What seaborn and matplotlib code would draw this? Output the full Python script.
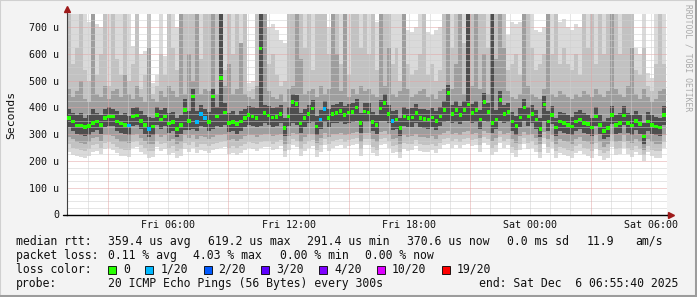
import numpy as np
import pandas as pd
import matplotlib
matplotlib.use("Agg")
import matplotlib.pyplot as plt
from matplotlib.patches import Rectangle
from matplotlib.lines import Line2D
import seaborn as sns

# ------------------------------------------------------------------
# Data (RTT in microseconds), one value per 12-minute step, 150 steps
# ------------------------------------------------------------------
median_us = [
    360, 347, 332, 332, 327, 330, 341, 347, 335, 360, 366, 366, 347, 339, 335, 332, 366, 370, 350, 335, 320, 329, 372, 354, 366,
    340, 345, 320, 335, 390, 350, 441, 345, 375, 360, 345, 440, 366, 509, 380, 341, 345, 337, 347, 360, 372, 366, 360, 620, 378,
    370, 362, 364, 375, 322, 366, 420, 412, 340, 360, 375, 395, 329, 354, 393, 360, 375, 378, 387, 372, 380, 382, 400, 341, 385,
    380, 345, 335, 395, 416, 375, 350, 354, 322, 365, 360, 362, 378, 360, 357, 354, 362, 350, 366, 391, 454, 375, 390, 372, 391,
    410, 378, 390, 355, 419, 382, 341, 354, 427, 375, 382, 347, 330, 362, 400, 366, 375, 354, 320, 410, 347, 372, 325, 347, 341,
    335, 329, 347, 354, 341, 337, 325, 365, 335, 312, 322, 372, 335, 341, 370, 341, 332, 350, 337, 291, 347, 335, 329, 325, 371,
]
# steps whose median was drawn with the 1/20 loss colour
loss_1of20_steps = [15, 20, 32, 33, 34, 63, 64, 81]

# smoke: outermost (light) band
smoke_lo = [
    235, 222, 218, 215, 212, 220, 232, 238, 225, 245, 250, 242, 228, 220, 218, 215, 248, 252, 235, 225, 212, 215, 252, 238, 245,
    222, 230, 212, 220, 245, 235, 250, 228, 242, 238, 230, 240, 245, 250, 252, 225, 230, 222, 230, 242, 250, 245, 238, 250, 252,
    252, 240, 245, 255, 215, 240, 258, 252, 220, 238, 250, 255, 215, 235, 258, 238, 250, 255, 258, 248, 255, 258, 262, 220, 258,
    258, 228, 218, 260, 265, 250, 230, 235, 212, 245, 238, 242, 255, 238, 235, 232, 242, 230, 245, 258, 265, 250, 258, 248, 260,
    265, 255, 260, 232, 268, 258, 222, 235, 268, 250, 258, 228, 215, 242, 262, 245, 250, 232, 210, 262, 228, 248, 212, 228, 222,
    218, 212, 230, 238, 225, 220, 212, 245, 218, 205, 212, 252, 222, 225, 250, 225, 215, 232, 222, 200, 232, 218, 212, 210, 250,
]
smoke_hi = [
    760, 760, 760, 760, 760, 720, 700, 710, 700, 760, 760, 760, 760, 760, 650, 760, 630, 760, 600, 610, 760, 490, 520, 760, 590,
    760, 760, 700, 760, 760, 760, 760, 760, 760, 760, 760, 760, 760, 760, 760, 760, 760, 760, 760, 760, 490, 500, 760, 760, 760,
    700, 710, 690, 650, 640, 760, 760, 760, 760, 760, 760, 760, 760, 760, 760, 700, 710, 720, 760, 760, 760, 760, 760, 760, 760,
    760, 760, 720, 760, 760, 760, 760, 760, 760, 760, 690, 680, 700, 760, 760, 680, 670, 690, 700, 760, 760, 760, 760, 760, 760,
    760, 760, 760, 760, 760, 760, 760, 760, 760, 760, 670, 720, 710, 720, 730, 760, 760, 690, 680, 700, 760, 760, 760, 720, 730,
    700, 690, 710, 700, 760, 760, 760, 760, 760, 760, 760, 760, 760, 760, 760, 760, 760, 620, 600, 760, 530, 510, 760, 760, 760,
]
# second band
smoke_mlo = [
    262, 250, 245, 240, 236, 245, 258, 262, 250, 268, 272, 265, 252, 245, 242, 240, 270, 275, 258, 248, 236, 238, 275, 262, 268,
    248, 255, 236, 245, 268, 258, 272, 252, 265, 262, 255, 262, 268, 272, 275, 250, 255, 248, 255, 265, 272, 268, 262, 272, 275,
    275, 265, 270, 278, 238, 265, 280, 275, 245, 262, 275, 278, 240, 258, 280, 262, 275, 278, 280, 272, 278, 280, 285, 245, 280,
    280, 252, 242, 282, 286, 275, 255, 258, 235, 268, 262, 265, 278, 262, 260, 258, 265, 255, 268, 280, 286, 275, 280, 272, 282,
    286, 278, 282, 258, 290, 280, 248, 258, 290, 275, 280, 252, 240, 265, 284, 268, 275, 258, 235, 284, 252, 272, 238, 252, 248,
    242, 238, 255, 262, 248, 245, 236, 268, 242, 228, 236, 275, 245, 248, 272, 248, 240, 255, 245, 222, 255, 242, 238, 236, 272,
]
smoke_mhi = [
    760, 560, 620, 760, 540, 500, 760, 520, 600, 760, 480, 760, 580, 520, 760, 500, 560, 760, 470, 520, 760, 450, 480, 600, 520,
    760, 620, 540, 760, 760, 760, 760, 760, 580, 760, 760, 760, 760, 760, 540, 760, 600, 760, 520, 760, 460, 470, 760, 760, 760,
    560, 600, 520, 480, 500, 760, 760, 760, 760, 620, 760, 540, 760, 760, 760, 600, 760, 760, 560, 760, 520, 760, 760, 620, 760,
    600, 760, 540, 760, 760, 760, 560, 620, 500, 760, 560, 520, 540, 600, 760, 520, 560, 500, 540, 760, 760, 620, 760, 760, 640,
    760, 760, 760, 760, 760, 620, 760, 760, 760, 760, 540, 560, 600, 520, 760, 760, 620, 540, 560, 600, 760, 600, 760, 560, 620,
    560, 540, 600, 520, 760, 620, 760, 560, 760, 600, 760, 560, 760, 600, 760, 760, 760, 540, 520, 620, 480, 460, 560, 760, 560,
]
# third band
smoke_dlo = [
    290, 280, 272, 268, 262, 270, 285, 288, 275, 295, 298, 292, 280, 272, 270, 268, 298, 300, 285, 275, 262, 265, 300, 288, 295,
    275, 282, 262, 270, 295, 285, 298, 280, 292, 290, 282, 290, 295, 298, 300, 278, 282, 275, 282, 292, 298, 295, 290, 298, 300,
    300, 292, 295, 302, 265, 292, 305, 300, 272, 290, 300, 302, 268, 285, 305, 290, 300, 302, 305, 298, 302, 305, 308, 272, 305,
    305, 280, 270, 308, 310, 300, 282, 285, 262, 295, 290, 292, 302, 290, 288, 285, 292, 282, 295, 305, 310, 300, 305, 298, 308,
    310, 302, 305, 285, 312, 305, 275, 285, 312, 300, 305, 280, 268, 292, 308, 295, 300, 285, 262, 308, 280, 298, 265, 280, 275,
    270, 265, 282, 288, 275, 272, 262, 295, 270, 252, 262, 300, 272, 275, 298, 275, 268, 282, 272, 240, 280, 270, 265, 262, 298,
]
smoke_dhi = [
    470, 440, 460, 500, 430, 420, 760, 450, 440, 480, 430, 460, 470, 440, 520, 450, 430, 480, 440, 420, 620, 430, 420, 460, 440,
    480, 460, 440, 760, 450, 600, 500, 760, 450, 470, 460, 760, 450, 760, 480, 560, 450, 470, 640, 450, 440, 430, 480, 760, 760,
    460, 440, 430, 450, 420, 470, 480, 760, 580, 450, 460, 470, 440, 480, 450, 470, 760, 600, 460, 760, 440, 470, 450, 480, 460,
    470, 450, 440, 760, 480, 620, 450, 440, 460, 760, 470, 440, 450, 460, 470, 440, 450, 430, 460, 470, 760, 470, 560, 760, 450,
    760, 480, 760, 470, 600, 450, 760, 580, 760, 620, 460, 440, 430, 450, 760, 480, 450, 440, 430, 470, 760, 450, 440, 460, 450,
    440, 430, 450, 440, 460, 450, 440, 470, 450, 440, 460, 760, 470, 450, 440, 480, 620, 450, 430, 470, 440, 420, 430, 460, 470,
]
# dark core around the median
smoke_klo = [
    325, 312, 300, 298, 292, 298, 308, 315, 302, 325, 330, 330, 312, 305, 300, 298, 330, 335, 318, 302, 290, 296, 335, 320, 330,
    305, 312, 290, 300, 315, 315, 320, 312, 330, 325, 312, 320, 330, 325, 335, 308, 312, 302, 312, 325, 335, 330, 325, 330, 340,
    335, 328, 330, 340, 292, 330, 340, 335, 305, 325, 340, 345, 296, 320, 345, 325, 340, 342, 345, 338, 342, 345, 350, 305, 345,
    345, 312, 300, 350, 350, 340, 315, 320, 292, 330, 325, 328, 342, 325, 322, 320, 328, 315, 330, 345, 350, 340, 345, 338, 350,
    350, 342, 345, 320, 350, 345, 305, 320, 350, 340, 345, 312, 296, 328, 350, 330, 340, 320, 290, 350, 312, 338, 292, 312, 305,
    300, 295, 312, 320, 305, 302, 292, 330, 300, 280, 290, 338, 300, 305, 335, 305, 298, 315, 302, 265, 312, 300, 295, 292, 335,
]
smoke_khi = [
    395, 380, 372, 378, 360, 372, 395, 380, 370, 392, 400, 395, 385, 372, 380, 368, 398, 402, 385, 372, 365, 360, 400, 390, 398,
    378, 382, 360, 372, 430, 388, 470, 385, 410, 395, 382, 470, 400, 760, 415, 378, 385, 372, 385, 395, 405, 400, 398, 760, 410,
    405, 398, 400, 410, 362, 400, 450, 445, 378, 395, 410, 428, 368, 390, 425, 395, 410, 412, 420, 405, 412, 418, 432, 380, 418,
    415, 382, 372, 428, 450, 410, 385, 390, 360, 400, 395, 398, 412, 395, 392, 390, 398, 385, 400, 425, 485, 410, 425, 405, 425,
    760, 412, 425, 390, 452, 415, 760, 390, 460, 410, 415, 382, 368, 398, 432, 400, 410, 390, 360, 442, 385, 405, 362, 382, 378,
    372, 365, 382, 390, 378, 372, 362, 400, 372, 350, 360, 405, 372, 378, 405, 378, 370, 385, 372, 340, 382, 372, 365, 362, 405,
]

y_ticks = [0, 100, 200, 300, 400, 500, 600, 700]
time_label_hours = [6, 12, 18, 24, 30]          # hours since Fri 00:00
time_labels = ["Fri 06:00", "Fri 12:00", "Fri 18:00", "Sat 00:00", "Sat 06:00"]

loss_levels = ["0", "1/20", "2/20", "3/20", "4/20", "10/20", "19/20"]
loss_colors = ["#26ff00", "#00b8ff", "#0059ff", "#5e00ff", "#7e00ff", "#dd00ff", "#ff0000"]

rtt_stats = ["359.4 us avg", "619.2 us max", "291.4 us min", "370.6 us now", "0.0 ms sd", "11.9", "am/s"]
loss_stats = ["0.11 % avg", "4.03 % max", "0.00 % min", "0.00 % now"]
probe_text = "20 ICMP Echo Pings (56 Bytes) every 300s"
end_text = "end: Sat Dec  6 06:55:40 2025"

# ------------------------------------------------------------------
sns.set_style("white")
plt.rcParams["font.family"] = ["DejaVu Sans Mono"]

W, H = 697, 297
BG = "#f3f3f3"
fig = plt.figure(figsize=(W / 100, H / 100), dpi=100, facecolor=BG)

def fx(px):
    return px / W

def fy(py):
    return 1 - py / H

AX_L, AX_R, AX_T, AX_B = 67, 667, 13.6, 214.5
ax = fig.add_axes([fx(AX_L), fy(AX_B), (AX_R - AX_L) / W, (AX_B - AX_T) / H])
ax.set_facecolor("white")

N = len(median_us)
t0 = 0.98
step_h = 0.1985
x_left = t0 + step_h * np.arange(N)

layers = [
    (smoke_lo, smoke_hi, "#dadada"),
    (smoke_mlo, smoke_mhi, "#c2c2c2"),
    (smoke_dlo, smoke_dhi, "#9e9e9e"),
    (smoke_klo, smoke_khi, "#4e4e4e"),
]
for lo, hi, col in layers:
    lo = np.array(lo, float)
    hi = np.array(hi, float)
    ax.bar(x_left, hi - lo, bottom=lo, width=step_h, align="edge", color=col,
           linewidth=0, antialiased=False, zorder=1)

# grid (dotted, above the smoke like rrdtool)
dot = (0, (1, 1))
for v in range(25, 750, 25):
    major = v % 100 == 0
    ax.axhline(v, color="#e2a4a4" if major else "#cfcfcf", lw=0.72, ls=dot, zorder=2)
for h in range(1, 31):
    major = h % 6 == 3
    ax.axvline(h, color="#e2a4a4" if major else "#cfcfcf", lw=0.72, ls=dot, zorder=2)

# median with loss colours
df = pd.DataFrame({
    "t": x_left + step_h / 2,
    "rtt": median_us,
    "loss": ["1/20" if i in loss_1of20_steps else "0" for i in range(N)],
})
sns.scatterplot(data=df, x="t", y="rtt", hue="loss",
                palette=dict(zip(loss_levels, loss_colors)),
                marker="s", s=6.5, linewidth=0, legend=False, ax=ax, zorder=4)

ax.set_xlim(t0, 30.8)
ax.set_ylim(0, 750)
ax.set_xlabel("")
ax.set_ylabel("")
ax.set_yticks(y_ticks)
ax.set_yticklabels(["0"] + [f"{v} u" for v in y_ticks[1:]])
ax.set_xticks(time_label_hours)
ax.set_xticklabels(time_labels)
ax.tick_params(axis="y", length=0, pad=5.8, labelsize=7.2, colors="#111111")
ax.tick_params(axis="x", length=0, pad=4.0, labelsize=7.2, colors="#111111")
for s in ["top", "right"]:
    ax.spines[s].set_visible(False)
ax.spines["left"].set_color("#404040")
ax.spines["left"].set_linewidth(0.8)
ax.spines["bottom"].set_color("#000000")
ax.spines["bottom"].set_linewidth(1.0)

# axis extension and arrows
fig.add_artist(Line2D([fx(63), fx(AX_L)], [fy(AX_B), fy(AX_B)], color="black", lw=1.0))
fig.add_artist(Line2D([fx(AX_R), fx(669)], [fy(AX_B), fy(AX_B)], color="black", lw=1.0))
fig.add_artist(Line2D([fx(AX_L), fx(AX_L)], [fy(AX_T), fy(11)], color="#404040", lw=0.8))
fig.add_artist(Line2D([fx(AX_L)], [fy(9)], marker="^", ms=5, color="#9e1a1a", lw=0))
fig.add_artist(Line2D([fx(671)], [fy(AX_B)], marker=">", ms=5, color="#9e1a1a", lw=0))

# labels
fig.text(fx(11), fy(115), "Seconds", rotation=90, ha="center", va="center", fontsize=8.2, color="#111111")
fig.text(fx(688), fy(4), "RRDTOOL / TOBI OETIKER", rotation=-90, ha="center", va="top",
         fontsize=5.8, color="#a9a9a9")

fs = 8.3
tc = "#111111"
# line 1
y1 = fy(241.5)
fig.text(fx(16), y1, "median rtt:", fontsize=fs, va="center", color=tc)
for xp, s in zip([107.6, 207.6, 307.2, 406.7, 507.2, 586.4, 635.2], rtt_stats):
    fig.text(fx(xp), y1, s, fontsize=fs, va="center", color=tc)
# line 2
y2 = fy(255.5)
fig.text(fx(16), y2, "packet loss:", fontsize=fs, va="center", color=tc)
for xp, s in zip([107.6, 192.9, 279.5, 364.9], loss_stats):
    fig.text(fx(xp), y2, s, fontsize=fs, va="center", color=tc)
# line 3: loss colours
y3px = 269.5
fig.text(fx(16), fy(y3px), "loss color:", fontsize=fs, va="center", color=tc)
sq_x = [108, 145.4, 203.5, 261.2, 319.0, 377.0, 442.0]
for xp, lab, col in zip(sq_x, loss_levels, loss_colors):
    fig.add_artist(Rectangle((fx(xp), fy(y3px + 4)), 8 / W, 8 / H, facecolor=col,
                             edgecolor="black", lw=0.6, transform=fig.transFigure))
    fig.text(fx(xp + 15), fy(y3px), lab, fontsize=fs, va="center", color=tc)
# line 4
y4 = fy(283.5)
fig.text(fx(16), y4, "probe:", fontsize=fs, va="center", color=tc)
fig.text(fx(107.6), y4, probe_text, fontsize=fs, va="center", color=tc)
fig.text(fx(478.7), y4, end_text, fontsize=fs, va="center", color=tc)

# 3D frame
fig.add_artist(Line2D([0, 0], [0, 1], color="#d0d0d0", lw=1.5))
fig.add_artist(Line2D([0, 1], [1, 1], color="#d0d0d0", lw=1.5))
fig.add_artist(Line2D([0, 1], [0.002, 0.002], color="#9c9c9c", lw=2.2))
fig.add_artist(Line2D([0.9985, 0.9985], [0, 1], color="#9c9c9c", lw=2.2))

fig.savefig("out.png", dpi=100, facecolor=BG)
